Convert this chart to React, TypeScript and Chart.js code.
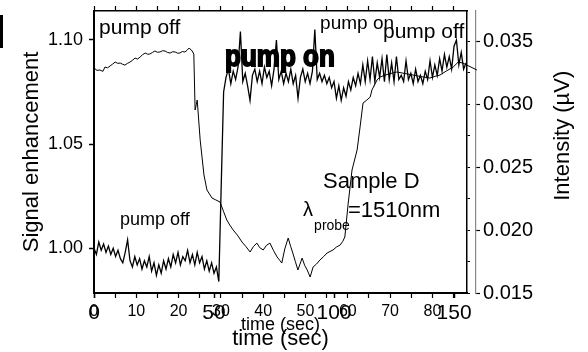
import { useEffect, useRef } from "react";
import { Chart, registerables } from "chart.js";

Chart.register(...registerables);

const FONT = "'Liberation Sans', Arial, Helvetica, sans-serif";

// ---- Signal enhancement, sampled once per second (bottom axis 0–150 s) ----
const signalValues = [
  1.000, 0.997, 1.003, 0.999, 1.002, 0.998, 1.001, 0.997, 1.000, 0.996,
  0.999, 0.995, 0.993, 0.998, 1.004, 0.994, 0.991, 0.996, 0.992, 0.995,
  0.990, 0.994, 0.991, 0.996, 0.989, 0.993, 0.987, 0.992, 0.988, 0.994,
  0.990, 0.995, 0.991, 0.997, 0.993, 0.998, 0.992, 0.996, 0.994, 0.999,
  0.993, 0.997, 0.992, 0.998, 0.993, 0.996, 0.990, 0.994, 0.989, 0.993,
  0.988, 0.991, 0.984, 1.030, 1.075, 1.082, 1.086, 1.079, 1.085, 1.081,
  1.087, 1.104, 1.080, 1.084, 1.078, 1.071, 1.083, 1.086, 1.080, 1.085,
  1.079, 1.087, 1.082, 1.085, 1.078, 1.086, 1.100, 1.081, 1.085, 1.079,
  1.084, 1.080, 1.086, 1.079, 1.083, 1.072, 1.082, 1.086, 1.080, 1.084,
  1.079, 1.085, 1.105, 1.081, 1.084, 1.080, 1.083, 1.079, 1.082, 1.077,
  1.080, 1.072, 1.078, 1.071, 1.077, 1.073, 1.080, 1.076, 1.082, 1.078,
  1.084, 1.079, 1.088, 1.080, 1.090, 1.081, 1.092, 1.080, 1.089, 1.082,
  1.091, 1.080, 1.093, 1.081, 1.089, 1.080, 1.092, 1.081, 1.083, 1.080,
  1.090, 1.081, 1.084, 1.079, 1.086, 1.080, 1.083, 1.079, 1.085, 1.081,
  1.090, 1.082, 1.088, 1.083, 1.091, 1.085, 1.093, 1.087, 1.092, 1.086,
  1.097, 1.100, 1.088, 1.094, 1.086, 1.089,
];

// ---- Intensity (µV) vs time (second time axis 0–80 s) ----
const intensityTime = [
  0, 0.7, 1.4, 2.1, 2.6, 3.2, 3.8, 4.4, 5.0, 5.6, 6.2, 6.8, 7.3, 7.9, 8.5, 9.1,
  9.7, 10.3, 10.9, 11.5, 12.1, 12.7, 13.2, 13.8, 14.4, 15.0, 15.6, 16.2, 16.8,
  17.4, 18.0, 18.6, 19.2, 19.8, 20.3, 20.9, 21.5, 22.0, 22.5, 23.2, 23.6, 23.9,
  24.2, 24.4, 25.1, 26.0, 26.7, 27.9, 28.8, 29.8, 30.6, 31.4, 32.1, 32.9, 33.9,
  35.0, 35.9, 36.9, 37.7, 38.5, 39.2, 40.0, 40.8, 41.6, 42.4, 43.3, 43.9, 44.4,
  45.1, 45.9, 46.5, 47.0, 47.6, 48.2, 48.7, 49.2, 49.8, 50.4, 51.1, 51.8, 52.6,
  53.4, 54.3, 55.1, 55.8, 56.5, 57.3, 58.2, 58.8, 59.3, 60.1, 61.0, 62.2, 62.9,
  63.6, 64.5, 65.3, 65.7, 66.9, 67.6, 69.5, 71.6, 73.5, 75.4, 77.4, 79.4, 80.6,
  81.8, 83.3, 84.9, 86.1, 87.2, 90.5,
];
const intensityValues = [
  0.03289, 0.03270, 0.03273, 0.03262, 0.03297, 0.03290, 0.03305, 0.03320, 0.03336, 0.03326,
  0.03328, 0.03318, 0.03312, 0.03325, 0.03336, 0.03350, 0.03368, 0.03360, 0.03376, 0.03395,
  0.03408, 0.03398, 0.03400, 0.03412, 0.03424, 0.03414, 0.03416, 0.03426, 0.03424, 0.03412,
  0.03408, 0.03418, 0.03416, 0.03406, 0.03408, 0.03420, 0.03416, 0.03430, 0.03448, 0.03424,
  0.03400, 0.02955, 0.03000, 0.03034, 0.02716, 0.02438, 0.02319, 0.02255, 0.02240, 0.02223,
  0.02150, 0.02080, 0.02040, 0.02001, 0.01960, 0.01905, 0.01870, 0.01826, 0.01870, 0.01897,
  0.01860, 0.01842, 0.01880, 0.01897, 0.01840, 0.01786, 0.01760, 0.01738, 0.01850, 0.01937,
  0.01870, 0.01818, 0.01750, 0.01683, 0.01730, 0.01778, 0.01720, 0.01683, 0.01627, 0.01707,
  0.01730, 0.01762, 0.01790, 0.01818, 0.01830, 0.01842, 0.01865, 0.01882, 0.01910, 0.01945,
  0.02215, 0.02478, 0.02637, 0.02820, 0.03010, 0.03034, 0.03058, 0.03114, 0.03193, 0.03217,
  0.03240, 0.03257, 0.03245, 0.03233, 0.03220, 0.03209, 0.03222, 0.03233, 0.03265, 0.03296,
  0.03336, 0.03328, 0.03273,
];

// ---- tick labels ----
const timeTicksA = [0, 50, 100, 150];
const timeTicksB = [0, 5, 10, 15, 20, 25, 30, 35, 40, 45, 50, 55, 60, 65, 70, 75, 80, 85];
const signalTicks = [1.0, 1.05, 1.1];
const intensityTicks = [0.015, 0.02, 0.025, 0.03, 0.035];
const intensityMinorTicks = [0.015, 0.0175, 0.02, 0.0225, 0.025, 0.0275, 0.03, 0.0325, 0.035];

// ---- text notes placed in (time A, signal) coordinates ----
const notes = [
  { text: "pump off", t: 2.1, s: 1.1029, font: `21px ${FONT}` },
  { text: "pump on", t: 54.6, s: 1.0875, font: `bold 26px ${FONT}`, heavy: true },
  { text: "pump on", t: 94.2, s: 1.1053, font: `19px ${FONT}` },
  { text: "pump off", t: 120.4, s: 1.101, font: `21px ${FONT}` },
  { text: "pump off", t: 10.8, s: 1.0111, font: `18px ${FONT}` },
  { text: "Sample D", t: 95.4, s: 1.0288, font: `22px ${FONT}` },
  { text: "λ", t: 87.1, s: 1.0154, font: `20px ${FONT}` },
  { text: "probe", t: 91.7, s: 1.0087, font: `14px ${FONT}` },
  { text: "=1510nm", t: 105.8, s: 1.0149, font: `22px ${FONT}` },
];

const fixedTicks = (list: number[]) => (scale: any) => {
  scale.ticks = list.map((value) => ({ value }));
};

const notesPlugin = {
  id: "notes",
  afterDatasetsDraw(chart: any) {
    const { ctx } = chart;
    const xs = chart.scales.x;
    const ys = chart.scales.y;
    ctx.save();
    ctx.fillStyle = "#000";
    ctx.strokeStyle = "#000";
    ctx.textAlign = "left";
    ctx.textBaseline = "alphabetic";
    for (const n of notes) {
      ctx.font = n.font;
      const px = xs.getPixelForValue(n.t);
      const py = ys.getPixelForValue(n.s);
      if ((n as any).heavy) {
        ctx.save();
        ctx.translate(px, py);
        ctx.scale(1, 1.15);
        ctx.fillText(n.text, 0, 0);
        ctx.lineWidth = 1.6;
        ctx.strokeText(n.text, 0, 0);
        ctx.restore();
      } else {
        ctx.fillText(n.text, px, py);
      }
    }
    // right axis title, reading bottom-to-top
    const y2 = chart.scales.y2;
    ctx.font = `22px ${FONT}`;
    ctx.textAlign = "center";
    ctx.textBaseline = "middle";
    ctx.translate(y2.right - 25, y2.getPixelForValue(0.0275));
    ctx.rotate(-Math.PI / 2);
    ctx.fillText("Intensity (µV)", 0, 0);
    ctx.restore();
  },
};

export default function App() {
  const ref = useRef<HTMLCanvasElement>(null);

  useEffect(() => {
    const signalPoints = signalValues.map((v, i) => ({ x: i, y: v }));
    const intensityPoints = intensityTime.map((t, i) => ({ x: t, y: intensityValues[i] }));

    const chart = new Chart(ref.current as HTMLCanvasElement, {
      type: "line",
      data: {
        datasets: [
          {
            label: "Signal enhancement",
            data: signalPoints,
            xAxisID: "x",
            yAxisID: "y",
            borderColor: "#000",
            borderWidth: 1.3,
            pointRadius: 0,
            tension: 0,
          },
          {
            label: "Intensity",
            data: intensityPoints,
            xAxisID: "x2",
            yAxisID: "y2",
            borderColor: "#000",
            borderWidth: 1,
            pointRadius: 0,
            tension: 0,
            clip: false,
          },
        ],
      },
      options: {
        responsive: false,
        animation: false,
        devicePixelRatio: 1,
        layout: { padding: 0 },
        plugins: { legend: { display: false }, tooltip: { enabled: false } },
        scales: {
          x: {
            type: "linear",
            position: "bottom",
            min: 0,
            max: 155.4,
            afterBuildTicks: fixedTicks(timeTicksA),
            ticks: {
              font: { family: FONT, size: 21 },
              color: "#000",
              padding: 3,
              maxRotation: 0,
              autoSkip: false,
            },
            grid: { drawOnChartArea: false, tickLength: 5, tickColor: "#000", tickWidth: 1.5 },
            border: { color: "#000", width: 2 },
            title: {
              display: true,
              text: "time (sec)",
              font: { family: FONT, size: 22 },
              color: "#000",
              padding: { top: 0, bottom: 0 },
            },
            afterFit: (s: any) => {
              s.height = 59;
              s.paddingLeft = 0;
              s.paddingRight = 0;
            },
          },
          x2: {
            type: "linear",
            position: { y: 0.9785 },
            min: 0,
            max: 88.18,
            afterBuildTicks: fixedTicks(timeTicksB),
            ticks: {
              font: { family: FONT, size: 16 },
              color: "#000",
              padding: 4,
              maxRotation: 0,
              autoSkip: false,
              callback: (v: any) => (Number(v) % 10 === 0 ? String(v) : ""),
            },
            grid: { drawOnChartArea: false, tickLength: 5, tickColor: "#000", tickWidth: 1.2 },
            border: { display: false },
            title: {
              display: true,
              text: "time (sec)",
              font: { family: FONT, size: 18 },
              color: "#000",
              padding: { top: 0, bottom: -42.8 },
            },
            afterFit: (s: any) => {
              s.height = 0;
              s.paddingLeft = 0;
              s.paddingRight = 0;
            },
          },
          x3: {
            type: "linear",
            position: "top",
            min: 0,
            max: 88.18,
            afterBuildTicks: fixedTicks(timeTicksB),
            ticks: { display: false },
            grid: { drawOnChartArea: false, tickLength: 5, tickColor: "#000", tickWidth: 1.2 },
            border: { color: "#000", width: 1.5 },
            afterFit: (s: any) => {
              s.height = 11;
              s.paddingLeft = 0;
              s.paddingRight = 0;
            },
          },
          y: {
            type: "linear",
            position: "left",
            min: 0.9785,
            max: 1.1139,
            afterBuildTicks: fixedTicks(signalTicks),
            ticks: {
              font: { family: FONT, size: 18 },
              color: "#000",
              padding: 6,
              callback: (v: any) => Number(v).toFixed(2),
            },
            grid: { drawOnChartArea: false, tickLength: 5, tickColor: "#000", tickWidth: 1.5 },
            border: { color: "#000", width: 2 },
            title: {
              display: true,
              text: "Signal enhancement",
              font: { family: FONT, size: 22 },
              color: "#000",
              padding: { top: 19, bottom: 0 },
            },
            afterFit: (s: any) => {
              s.width = 94;
              s.paddingTop = 0;
              s.paddingBottom = 0;
            },
          },
          y3: {
            type: "linear",
            position: "right",
            weight: 0,
            min: 0.015,
            max: 0.03742,
            afterBuildTicks: fixedTicks(intensityMinorTicks),
            ticks: { display: false },
            grid: { drawOnChartArea: false, tickLength: 3, tickColor: "#000", tickWidth: 1 },
            border: { color: "#000", width: 1.5 },
            afterFit: (s: any) => {
              s.width = 9;
              s.paddingTop = 0;
              s.paddingBottom = 0;
            },
          },
          y2: {
            type: "linear",
            position: "right",
            weight: 1,
            min: 0.015,
            max: 0.03742,
            afterBuildTicks: fixedTicks(intensityTicks),
            ticks: {
              font: { family: FONT, size: 20 },
              color: "#000",
              padding: 3,
              callback: (v: any) => Number(v).toFixed(3),
            },
            grid: { drawOnChartArea: false, tickLength: 4, tickColor: "#000", tickWidth: 1.2 },
            border: { color: "#888", width: 1.2 },
            afterFit: (s: any) => {
              s.width = 112;
              s.paddingTop = 0;
              s.paddingBottom = 0;
            },
          },
        },
      },
      plugins: [notesPlugin],
    } as any);

    return () => chart.destroy();
  }, []);

  return (
    <div
      style={{
        position: "fixed",
        left: 0,
        top: 0,
        width: 588,
        height: 352,
        background: "#fff",
        overflow: "hidden",
      }}
    >
      <div
        style={{ position: "absolute", left: 0, top: 15, width: 3, height: 33, background: "#000" }}
      />
      <canvas
        ref={ref}
        width={588}
        height={352}
        style={{ position: "absolute", left: 0, top: 0, width: 588, height: 352 }}
      />
    </div>
  );
}
